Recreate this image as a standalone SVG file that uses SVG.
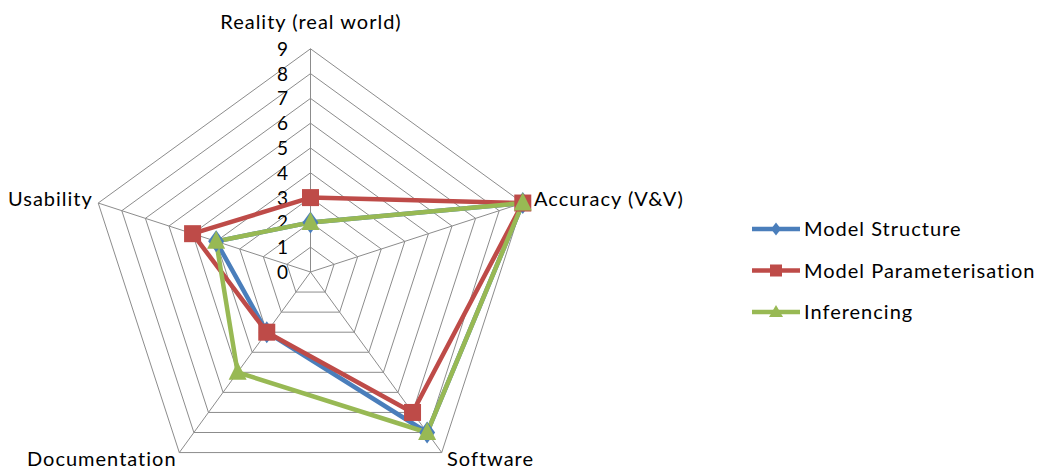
<svg xmlns="http://www.w3.org/2000/svg" width="1037" height="469" viewBox="0 0 1037 469">
<style>
.t{font-family:Lato,"Liberation Sans",sans-serif;font-size:20px;letter-spacing:1px;fill:#000}
.tick{text-anchor:end;font-size:19px;letter-spacing:0}
.grid{fill:none;stroke:#8c8c8c;stroke-width:1}
.s{fill:none;stroke-width:4.5;stroke-linejoin:round}
.blue{stroke:#4a7ebb}
.red{stroke:#be4b48}
.green{stroke:#98b954}
</style>
<defs>
<polygon id="dia" points="0,-11 8,0 0,11 -8,0" fill="#4a7ebb"/>
<rect id="sq" x="-8.5" y="-8.5" width="17" height="17" fill="#be4b48"/>
<polygon id="tri" points="0,-10.5 9,7.5 -9,7.5" fill="#98b954"/>
<polygon id="ldia" points="0,-6.5 5,0 0,6.5 -5,0" fill="#4a7ebb"/>
<rect id="lsq" x="-6" y="-6" width="12" height="12" fill="#be4b48"/>
<polygon id="ltri" points="0,-7 7,5 -7,5" fill="#98b954"/>
</defs>
<rect width="1037" height="469" fill="#fff"/>
<g id="grid">
<polygon class="grid" points="310.5,247.2 334.09,264.34 325.08,292.06 295.92,292.06 286.91,264.34"/>
<polygon class="grid" points="310.5,222.4 357.67,256.67 339.65,312.13 281.35,312.13 263.33,256.67"/>
<polygon class="grid" points="310.5,197.6 381.26,249.01 354.23,332.19 266.77,332.19 239.74,249.01"/>
<polygon class="grid" points="310.5,172.8 404.85,241.35 368.81,352.25 252.19,352.25 216.15,241.35"/>
<polygon class="grid" points="310.5,148 428.43,233.68 383.39,372.32 237.61,372.32 192.57,233.68"/>
<polygon class="grid" points="310.5,123.2 452.02,226.02 397.96,392.38 223.04,392.38 168.98,226.02"/>
<polygon class="grid" points="310.5,98.4 475.6,218.35 412.54,412.45 208.46,412.45 145.4,218.35"/>
<polygon class="grid" points="310.5,73.6 499.19,210.69 427.12,432.51 193.88,432.51 121.81,210.69"/>
<polygon class="grid" points="310.5,48.8 522.78,203.03 441.69,452.57 179.31,452.57 98.22,203.03"/>
<path class="grid" d="M310.5,272V48.8M310.5,272L522.78,203.03M310.5,272L441.69,452.57M310.5,272L179.31,452.57M310.5,272L98.22,203.03"/>
</g>
<g id="ticks" class="t tick">
<text x="288" y="279">0</text>
<text x="288" y="254.2">1</text>
<text x="288" y="229.4">2</text>
<text x="288" y="204.6">3</text>
<text x="288" y="179.8">4</text>
<text x="288" y="155">5</text>
<text x="288" y="130.2">6</text>
<text x="288" y="105.4">7</text>
<text x="288" y="80.6">8</text>
<text x="288" y="55.8">9</text>
</g>
<g id="axis-labels" class="t">
<text x="311" y="29" text-anchor="middle">Reality (real world)</text>
<text x="534" y="206">Accuracy (V&amp;V)</text>
<text x="447" y="466">Software</text>
<text x="27" y="466">Documentation</text>
<text x="8" y="206">Usability</text>
</g>
<g id="connectors">
<polygon class="s blue" points="310.5,222.4 522.78,203.03 427.12,432.51 266.77,332.19 216.15,241.35"/>
<polygon class="s red" points="310.5,197.6 522.78,203.03 412.54,412.45 266.77,332.19 192.57,233.68"/>
<polygon class="s green" points="310.5,222.4 522.78,203.03 427.12,432.51 237.61,372.32 216.15,241.35"/>
</g>
<g id="series-model-structure">
<use href="#dia" x="310.5" y="222.4"/>
<use href="#dia" x="522.78" y="203.03"/>
<use href="#dia" x="427.12" y="432.51"/>
<use href="#dia" x="266.77" y="332.19"/>
<use href="#dia" x="216.15" y="241.35"/>
</g>
<g id="series-model-parameterisation">
<use href="#sq" x="310.5" y="197.6"/>
<use href="#sq" x="522.78" y="203.03"/>
<use href="#sq" x="412.54" y="412.45"/>
<use href="#sq" x="266.77" y="332.19"/>
<use href="#sq" x="192.57" y="233.68"/>
</g>
<g id="series-inferencing">
<use href="#tri" x="310.5" y="222.4"/>
<use href="#tri" x="522.78" y="203.03"/>
<use href="#tri" x="427.12" y="432.51"/>
<use href="#tri" x="237.61" y="372.32"/>
<use href="#tri" x="216.15" y="241.35"/>
</g>
<g id="legend">
<g id="legend-model-structure">
<line x1="752" y1="229" x2="800" y2="229" class="s blue" stroke-width="4"/>
<use href="#ldia" x="776" y="229"/>
<text class="t" x="804" y="236">Model Structure</text>
</g>
<g id="legend-model-parameterisation">
<line x1="752" y1="270.5" x2="800" y2="270.5" class="s red" stroke-width="4"/>
<use href="#lsq" x="776" y="270.5"/>
<text class="t" x="804" y="277.5">Model Parameterisation</text>
</g>
<g id="legend-inferencing">
<line x1="752" y1="312" x2="800" y2="312" class="s green" stroke-width="4"/>
<use href="#ltri" x="776" y="312"/>
<text class="t" x="804" y="319">Inferencing</text>
</g>
</g>
</svg>
